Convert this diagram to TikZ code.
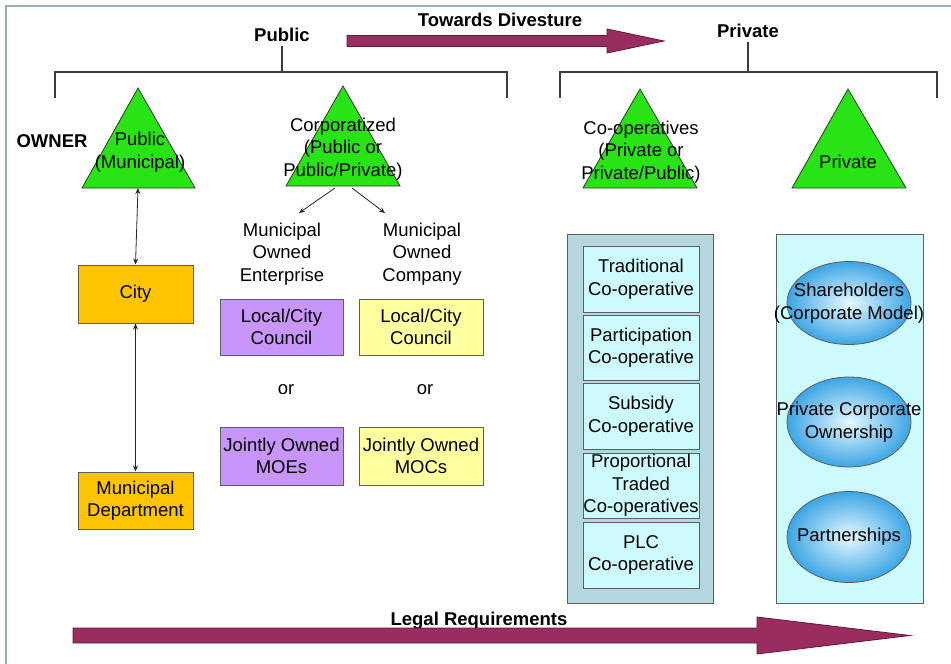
\documentclass[tikz,border=0pt]{standalone}
\usepackage{fontspec}
\setmainfont{Liberation Sans}
\usetikzlibrary{shapes.geometric,arrows.meta}

\definecolor{framecol}{RGB}{150,175,182}
\definecolor{bracketcol}{RGB}{60,60,60}
\definecolor{maroon}{RGB}{153,45,95}
\definecolor{maroonedge}{RGB}{100,25,60}
\definecolor{trigreen}{RGB}{40,228,20}
\definecolor{gold}{RGB}{255,196,0}
\definecolor{lilac}{RGB}{200,150,250}
\definecolor{paleyellow}{RGB}{255,255,160}
\definecolor{coopouter}{RGB}{180,214,220}
\definecolor{paleaqua}{RGB}{205,250,252}
\definecolor{ballblue}{RGB}{60,165,228}
\definecolor{ballcore}{RGB}{230,248,255}
\definecolor{edgegray}{RGB}{95,95,95}

\tikzset{
  txt/.style={font=\fontsize{18.5}{22.5}\selectfont, align=center, inner sep=0pt},
  title/.style={font=\fontsize{18.5}{22.5}\selectfont\bfseries, inner sep=0pt},
  box/.style={draw=edgegray, line width=1pt, inner sep=0pt, align=center,
              font=\fontsize{18.5}{22.5}\selectfont},
  tri/.style={fill=trigreen, draw=black!80, line width=0.8pt},
  blockarrow/.style={fill=maroon, draw=maroonedge, line width=0.8pt},
  bracket/.style={draw=bracketcol, line width=2.4pt},
  link/.style={draw=black!85, line width=0.8pt, {Stealth[length=6pt,width=5pt]}-{Stealth[length=6pt,width=5pt]}},
  fork/.style={draw=black!85, line width=0.8pt, -{Stealth[length=6pt,width=5pt]}},
  ball/.style={ellipse, draw=edgegray, line width=0.8pt, inner sep=0pt,
               shading=radial, inner color=ballcore, outer color=ballblue}
}

\begin{document}
\begin{tikzpicture}[x=1pt,y=-1pt]
  % canvas and frame
  \useasboundingbox (0,0) rectangle (951,664);
  \fill[white] (0,0) rectangle (951,664);
  \draw[framecol, line width=2.5pt] (6,664) -- (6,6) -- (951,6);

  % headings and brackets
  \node[title] (public) at (282,35) {Public};
  \node[title] (private) at (748,31) {Private};
  \node[title] (towards) at (500,20) {Towards Divesture};
  \node[title] (owner) at (52,141) {OWNER};
  \node[title] (legal) at (479,621) {Legal Requirements};

  \draw[bracket] (public.south) ++(0,4) -- (282,72);
  \draw[bracket] (55,98) -- (55,72) -- (507,72) -- (507,98);
  \draw[bracket] (private.south) ++(0,4) -- (748,72);
  \draw[bracket] (560,98) -- (560,72) -- (937,72) -- (937,98);

  % block arrows
  \draw[blockarrow] (347,35.5) -- (607,35.5) -- (607,29) -- (664,41)
        -- (607,53) -- (607,46.5) -- (347,46.5) -- cycle;
  \draw[blockarrow] (73,628) -- (757,628) -- (757,617) -- (910,635.5)
        -- (757,654) -- (757,643) -- (73,643) -- cycle;

  % ownership triangles
  \draw[tri] (82,188) -- (138,88) -- (195,188) -- cycle;
  \coordinate (muniBase) at (138,188);
  \draw[tri] (286,186) -- (343,86) -- (400,186) -- cycle;
  \coordinate (corpL) at (335,188);
  \coordinate (corpR) at (352,188);
  \draw[tri] (583,188) -- (640,89) -- (697,188) -- cycle;
  \draw[tri] (792,188) -- (848,89) -- (906,188) -- cycle;

  \node[txt] (tMuni) at (140,152) {Public\\(Municipal)};
  \node[txt] (tCorp) at (343,149) {Corporatized\\(Public or\\Public/Private)};
  \node[txt] (tCoop) at (641,152) {Co-operatives\\(Private or\\Private/Public)};
  \node[txt] (tPriv) at (848,162) {Private};

  % public column
  \node[box, fill=gold, minimum width=115pt, minimum height=58pt] (city) at (135.5,294) {City};
  \node[box, fill=gold, minimum width=115pt, minimum height=57pt] (dept) at (135.5,500.5) {Municipal\\Department};
  \draw[link] (muniBase) -- (city.north);
  \draw[link] (city.south) -- (dept.north);

  % corporatized column
  \node[txt] (moe) at (282,254) {Municipal\\Owned\\Enterprise};
  \node[txt] (moc) at (422,254) {Municipal\\Owned\\Company};
  \coordinate (moeTip) at (299,213);
  \coordinate (mocTip) at (385,213);
  \draw[fork] (corpL) -- (moeTip);
  \draw[fork] (corpR) -- (mocTip);

  \node[box, fill=lilac, minimum width=123pt, minimum height=56pt] (lccP) at (281.5,327) {Local/City\\Council};
  \node[box, fill=paleyellow, minimum width=124pt, minimum height=56pt] (lccY) at (421,327) {Local/City\\Council};
  \node[txt] (orP) at (286,390) {or};
  \node[txt] (orY) at (425,390) {or};
  \node[box, fill=lilac, minimum width=123pt, minimum height=58pt] (moes) at (281.5,456) {Jointly Owned\\MOEs};
  \node[box, fill=paleyellow, minimum width=124pt, minimum height=58pt] (mocs) at (421,456) {Jointly Owned\\MOCs};

  % co-operative panel
  \node[box, fill=coopouter, minimum width=146pt, minimum height=369pt] (coopPanel) at (640,418.5) {};
  \node[box, fill=paleaqua, minimum width=116pt, minimum height=66pt] (trad) at (641,279) {Traditional\\Co-operative};
  \node[box, fill=paleaqua, minimum width=116pt, minimum height=65pt] (part) at (641,347.5) {Participation\\Co-operative};
  \node[box, fill=paleaqua, minimum width=116pt, minimum height=66pt] (subs) at (641,416) {Subsidy\\Co-operative};
  \node[box, fill=paleaqua, minimum width=116pt, minimum height=65pt] (prop) at (641,485.5) {Proportional\\Traded\\Co-operatives};
  \node[box, fill=paleaqua, minimum width=116pt, minimum height=66pt] (plc) at (641,555) {PLC\\Co-operative};

  % private panel
  \node[box, fill=paleaqua, minimum width=147pt, minimum height=369pt] (privPanel) at (849.5,418.5) {};
  \node[ball, minimum width=124pt, minimum height=83pt] (share) at (849,303) {};
  \node[ball, minimum width=124pt, minimum height=90pt] (corpOwn) at (849,422) {};
  \node[ball, minimum width=124pt, minimum height=91pt] (partner) at (849,537) {};
  \node[txt] at (share) {Shareholders\\(Corporate Model)};
  \node[txt] at (corpOwn) {Private Corporate\\Ownership};
  \node[txt] at (partner) {Partnerships};
\end{tikzpicture}
\end{document}
